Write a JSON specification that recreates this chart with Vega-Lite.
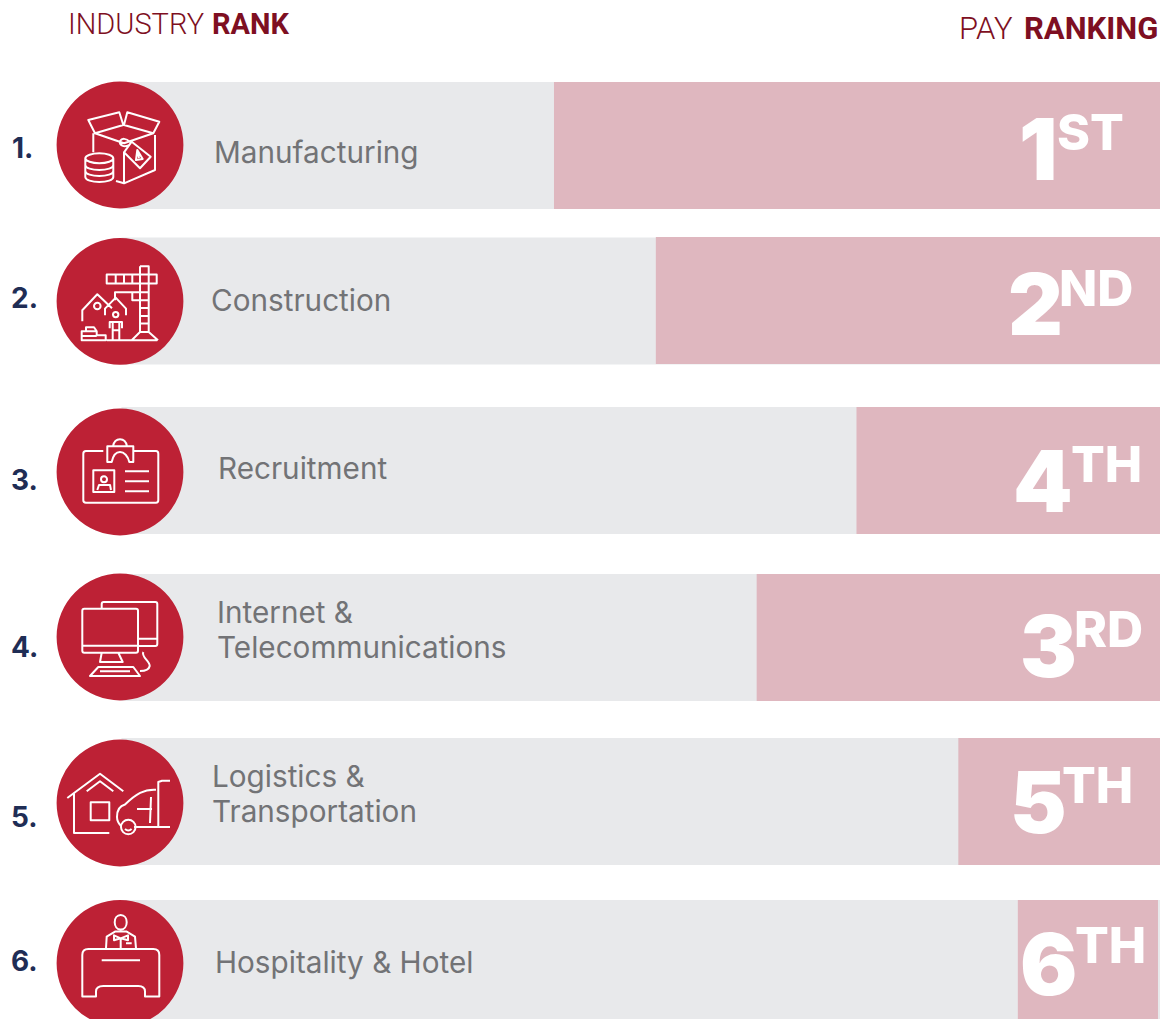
{
"$schema":"https://vega.github.io/schema/vega-lite/v6.json",
"width":1170,"height":1019,"padding":0,"autosize":{"type":"none"},"background":"white",
"config":{"view":{"stroke":null},"axis":{"disable":true}},
"datasets":{
"rows":[
{"rank":1,"industry":"Manufacturing","rankLabel":"1.","payDigit":"1","paySuffix":"ST","payScore":6.01,"payEnd":0},
{"rank":2,"industry":"Construction","rankLabel":"2.","payDigit":"2","paySuffix":"ND","payScore":5.0,"payEnd":0},
{"rank":3,"industry":"Recruitment","rankLabel":"3.","payDigit":"4","paySuffix":"TH","payScore":3.01,"payEnd":0},
{"rank":4,"industry":"Internet &|Telecommunications","rankLabel":"4.","payDigit":"3","paySuffix":"RD","payScore":4.0,"payEnd":0},
{"rank":5,"industry":"Logistics &|Transportation","rankLabel":"5.","payDigit":"5","paySuffix":"TH","payScore":2.0,"payEnd":0},
{"rank":6,"industry":"Hospitality & Hotel","rankLabel":"6.","payDigit":"6","paySuffix":"TH","payScore":1.41,"payEnd":0.02}
],
"headLight":[{"slot":1,"text":"INDUSTRY"},{"slot":2,"text":"PAY"}],
"headBold":[{"slot":1,"text":"RANK"},{"slot":2,"text":"RANKING"}]
},
"data":{"name":"rows"},
"resolve":{"scale":{"x":"independent","y":"independent","size":"independent"}},
"layer":[
{"mark":{"type":"bar","orient":"horizontal","size":127,"color":"#E8E9EB"},
 "encoding":{
  "y":{"field":"rank","type":"quantitative","axis":null,"scale":{"domain":[1,2,3,4,5,6],"range":[145.5,301,470.5,637.5,801.5,963.5],"nice":false,"zero":false,"padding":0}},
  "x":{"datum":10.3,"type":"quantitative","axis":null,"scale":{"domain":[0,6],"range":[1160,555],"nice":false,"zero":false,"padding":0}},
  "x2":{"datum":0}}},
{"mark":{"type":"bar","orient":"horizontal","size":127,"color":"#DFB7BF"},
 "encoding":{
  "y":{"field":"rank","type":"quantitative","axis":null,"scale":{"domain":[1,2,3,4,5,6],"range":[145.5,300.5,470.5,637.5,801.5,963.5],"nice":false,"zero":false,"padding":0}},
  "x":{"field":"payScore","type":"quantitative","axis":null,"scale":{"domain":[0,6],"range":[1160,555],"nice":false,"zero":false,"padding":0}},
  "x2":{"field":"payEnd"}}},
{"mark":{"type":"circle","size":16078,"color":"#BD2135","opacity":1},
 "encoding":{
  "y":{"field":"rank","type":"quantitative","axis":null,"scale":{"domain":[1,2,3,4,5,6],"range":[145,301.3,472,637,803,963.3],"nice":false,"zero":false}},
  "x":{"field":"rank","type":"quantitative","axis":null,"scale":{"domain":[1,6],"range":[120,120],"nice":false,"zero":false}}}},
{"mark":{"type":"point","size":4,"filled":false,"stroke":"white","strokeWidth":2,"opacity":1,"strokeJoin":"round"},
 "encoding":{
  "y":{"field":"rank","type":"quantitative","axis":null,"scale":{"domain":[1,2,3,4,5,6],"range":[145,301.3,472,637,803,963.3],"nice":false,"zero":false}},
  "x":{"field":"rank","type":"quantitative","axis":null,"scale":{"domain":[1,6],"range":[120,120],"nice":false,"zero":false}},
  "shape":{"field":"rank","type":"nominal","legend":null,"scale":{"domain":[1,2,3,4,5,6],"range":[
"M-31.7,-25 L-0.7,-32.7 L3.3,-20 L-25,-11.7 Z M7.3,-32.7 L39.3,-23.3 L33.3,-11.7 L4,-20 Z M-25,-11.7 L4,-1.7 L33.3,-11.7 M-26.7,-11.7 L-26.7,7.3 M35,-10 L35,25 L4,38.3 L-4,36 M4,6.7 L4,38.3 M11.7,-3.3 L30.7,11.7 L20,23.3 L4,7.3 Z M10,-3 C6,-7 2,-7 0,-4 C-1,0 4,3 9,0 M17.3,5 L22.7,14 L16,15 Z M18,8 L19,13 M-34.7,13.3 C-34.7,10.5 -28,8.3 -20.7,8.3 C-13,8.3 -6.7,10.5 -6.7,13.3 C-6.7,16 -13,18.3 -20.7,18.3 C-28,18.3 -34.7,16 -34.7,13.3 M-34.7,13.3 L-34.7,32 C-34.7,35 -28,37 -20.7,37 C-13,37 -6.7,35 -6.7,32 L-6.7,13.3 M-34.7,20 C-34.7,23 -28,25 -20.7,25 C-13,25 -6.7,23 -6.7,20 M-34.7,26 C-34.7,29 -28,31 -20.7,31 C-13,31 -6.7,29 -6.7,26",
"M-13.3,-26.7 L36.7,-26.7 L36.7,-17.7 L-13.3,-17.7 Z M-4.3,-26.7 L-4.3,-17.7 M4,-26.7 L4,-17.7 M12.3,-26.7 L12.3,-17.7 M20,-35 L28.7,-35 L28.7,30.7 M20,-35 L20,30.7 M20,-9 L28.7,-9 M20,-1 L28.7,-1 M20,6.7 L28.7,6.7 M20,14.7 L28.7,14.7 M20,22.3 L28.7,22.3 M20,30.7 L28.7,30.7 M11.7,39 L20,30.7 M28.7,30.7 L38,39 M-13.3,39 L37.3,39 M-5,-1 L-5,-9 L20,-9 M12.3,-9 L12.3,-1 L20,-1 M-37.7,20 L-37.7,9 L-22.7,-7 L-8,7 M-26,4.7 C-26,2.9 -24.5,1.4 -22.7,1.4 C-20.9,1.4 -19.4,2.9 -19.4,4.7 C-19.4,6.5 -20.9,8 -22.7,8 C-24.5,8 -26,6.5 -26,4.7 M-15,14 L-15,7.3 L-4.3,-3.7 L6,7.3 L6,14 M-7,13.3 C-7,11.8 -5.8,10.6 -4.3,10.6 C-2.8,10.6 -1.6,11.8 -1.6,13.3 C-1.6,14.8 -2.8,16 -4.3,16 C-5.8,16 -7,14.8 -7,13.3 M-10.3,27 L-10.3,20.7 L2,20.7 L2,27 M-7.3,20.7 L-7.3,39 M-0.7,20.7 L-0.7,39 M-7.3,29 L-0.7,29 M-38.3,30 L-23.3,30 L-23.3,34 L-14.3,34 L-14.3,39 L-38.3,39 Z M-34,30 L-34,26 L-26,26 L-23.3,30 M-38.3,34.7 L-23.3,34.7",
"M-16.7,-21 L-34,-21 Q-36.7,-21 -36.7,-18.3 L-36.7,28.3 Q-36.7,30.7 -34,30.7 L36,30.7 Q38.3,30.7 38.3,28.3 L38.3,-18.3 Q38.3,-21 36,-21 L14,-21 M-12.7,-25.7 L13.3,-25.7 L13.3,-10 L9.3,-10 C8,-16 4,-20 0,-20 C-4,-20 -7,-16 -8.3,-10 L-12.7,-10 Z M-7,-25.7 C-6,-31 -3,-32.7 0,-32.7 C3,-32.7 6,-31 7,-25.7 M-26.7,-1.7 L-5.7,-1.7 L-5.7,20 L-26.7,20 Z M-19,7.3 C-19,5.6 -17.7,4.3 -16,4.3 C-14.3,4.3 -13,5.6 -13,7.3 C-13,9 -14.3,10.3 -16,10.3 C-17.7,10.3 -19,9 -19,7.3 M-22.7,18 L-21,13 L-10,13 L-9,18 M5,-0.7 L29,-0.7 M5,9.3 L29,9.3 M5,19.3 L29,19.3",
"M-35.7,-28.3 L16,-28.3 Q18,-28.3 18,-26.3 L18,13.7 Q18,15.7 16,15.7 L-35.7,15.7 Q-37.7,15.7 -37.7,13.7 L-37.7,-26.3 Q-37.7,-28.3 -35.7,-28.3 Z M-37.7,8.7 L18,8.7 M-18.3,15.7 L-20,25 L2.7,25 L-1.7,15.7 M-21.7,30 L13.3,30 L20,39 L-30,39 Z M-20,34.3 L10,34.3 M-18.3,-28.3 L-18.3,-33 Q-18.3,-35 -16.3,-35 L35.3,-35 Q37.3,-35 37.3,-33 L37.3,7 Q37.3,9 35.3,9 L18,9 M18,1.7 L37.3,1.7 M23.3,15 C21,20 30,24 29.7,29 C29,33 25,34 20,34",
"M-52.7,-5 L-20,-29.3 L3.3,-11.7 M-33.3,-11.7 L-20,-21.7 L-6.7,-11.7 M-46,-10 L-46,30 L-10.7,30 M-29.3,-0.7 L-10.7,-0.7 L-10.7,17.3 L-29.3,17.3 Z M38.3,23 L38.3,-21 L42,-22.3 L50,-22.3 M36,-13.3 C24,-14 16,-9 5,1.5 C-1,3 -3,8 -3,14 C-3,18 -1,21 1,23 M17,6 L32,6 M31,-6 L30,20 M14,24 L50,24 M1,24 C1,20 4.3,16.7 8.3,16.7 C12.3,16.7 15.6,20 15.6,24 C15.6,28 12.3,31.3 8.3,31.3 C4.3,31.3 1,28 1,24 M5,26 Q8.3,29 11.6,26",
"M-5.3,-41 C-5.3,-45 -3,-48.3 0.7,-48.3 C4.4,-48.3 6.7,-45 6.7,-41 C6.7,-37 4.4,-33.7 0.7,-33.7 C-3,-33.7 -5.3,-37 -5.3,-41 M-14,-15 L-13.3,-26.7 L-5,-31.7 L6.7,-31.7 L15,-26.7 L16,-15 M0.7,-15 L0.7,-25 M-6,-28 L0.7,-25 L8,-28 L8,-23 L0.7,-25 L-6,-23 Z M6,-20 L11.7,-20 M-37.7,33.3 L-37.7,-8.3 Q-37.7,-14.3 -31.7,-14.3 L33.3,-14.3 Q39.3,-14.3 39.3,-8.3 L39.3,33.3 L25,33.3 L25,28.3 Q25,22.7 18.3,22.7 L-16.7,22.7 Q-24,22.7 -24,28.3 L-24,33.3 Z M-18.3,-3 L20,-3"
]}}}},
{"mark":{"type":"text","align":"left","baseline":"middle","font":"Inter","fontWeight":700,"fontSize":28,"color":"#1F2D55"},
 "encoding":{
  "text":{"field":"rankLabel","type":"nominal"},
  "y":{"field":"rank","type":"quantitative","axis":null,"scale":{"domain":[1,2,3,4,5,6],"range":[150,300,482,649,819,963],"nice":false,"zero":false}},
  "x":{"field":"rank","type":"quantitative","axis":null,"scale":{"domain":[1,2,3,4,5,6],"range":[12,11,11,11,11,11],"nice":false,"zero":false}}}},
{"mark":{"type":"text","align":"left","baseline":"middle","font":"Inter","fontWeight":400,"fontSize":29.7,"color":"#727376","lineBreak":"|","lineHeight":35},
 "encoding":{
  "text":{"field":"industry","type":"nominal"},
  "y":{"field":"rank","type":"quantitative","axis":null,"scale":{"domain":[1,2,3,4,5,6],"range":[154,302,470,614,778,964],"nice":false,"zero":false}},
  "x":{"field":"rank","type":"quantitative","axis":null,"scale":{"domain":[1,2,3,4,5,6],"range":[214,211,218,217,212,215],"nice":false,"zero":false}}}},
{"mark":{"type":"text","align":"left","baseline":"alphabetic","font":"Inter","fontWeight":900,"fontSize":85,"color":"white"},
 "encoding":{
  "text":{"field":"payDigit","type":"nominal"},
  "y":{"field":"rank","type":"quantitative","axis":null,"scale":{"domain":[1,2,3,4,5,6],"range":[180,335,512,677,833,995],"nice":false,"zero":false}},
  "x":{"field":"rank","type":"quantitative","axis":null,"scale":{"domain":[1,2,3,4,5,6],"range":[1019,1008,1013,1020,1010,1020],"nice":false,"zero":false}}}},
{"mark":{"type":"text","align":"left","baseline":"alphabetic","font":"Inter","fontWeight":800,"fontSize":50,"color":"white"},
 "encoding":{
  "text":{"field":"paySuffix","type":"nominal"},
  "y":{"field":"rank","type":"quantitative","axis":null,"scale":{"domain":[1,2,3,4,5,6],"range":[150,306,482,647,803,963],"nice":false,"zero":false}},
  "x":{"field":"rank","type":"quantitative","axis":null,"scale":{"domain":[1,2,3,4,5,6],"range":[1057,1059,1071,1074,1062,1075],"nice":false,"zero":false}}}},
{"data":{"name":"headLight"},
 "mark":{"type":"text","align":"left","baseline":"alphabetic","font":"Roboto","fontWeight":300,"color":"#7E0F22"},
 "encoding":{
  "text":{"field":"text","type":"nominal"},
  "size":{"field":"slot","type":"quantitative","legend":null,"scale":{"domain":[1,2],"range":[29,31],"zero":false,"nice":false}},
  "y":{"field":"slot","type":"quantitative","axis":null,"scale":{"domain":[1,2],"range":[34,39],"nice":false,"zero":false}},
  "x":{"field":"slot","type":"quantitative","axis":null,"scale":{"domain":[1,2],"range":[68,959],"nice":false,"zero":false}}}},
{"data":{"name":"headBold"},
 "mark":{"type":"text","align":"left","baseline":"alphabetic","font":"Roboto","fontWeight":700,"color":"#7E0F22"},
 "encoding":{
  "text":{"field":"text","type":"nominal"},
  "size":{"field":"slot","type":"quantitative","legend":null,"scale":{"domain":[1,2],"range":[29,31],"zero":false,"nice":false}},
  "y":{"field":"slot","type":"quantitative","axis":null,"scale":{"domain":[1,2],"range":[34,39],"nice":false,"zero":false}},
  "x":{"field":"slot","type":"quantitative","axis":null,"scale":{"domain":[1,2],"range":[212,1024],"nice":false,"zero":false}}}}
]
}
